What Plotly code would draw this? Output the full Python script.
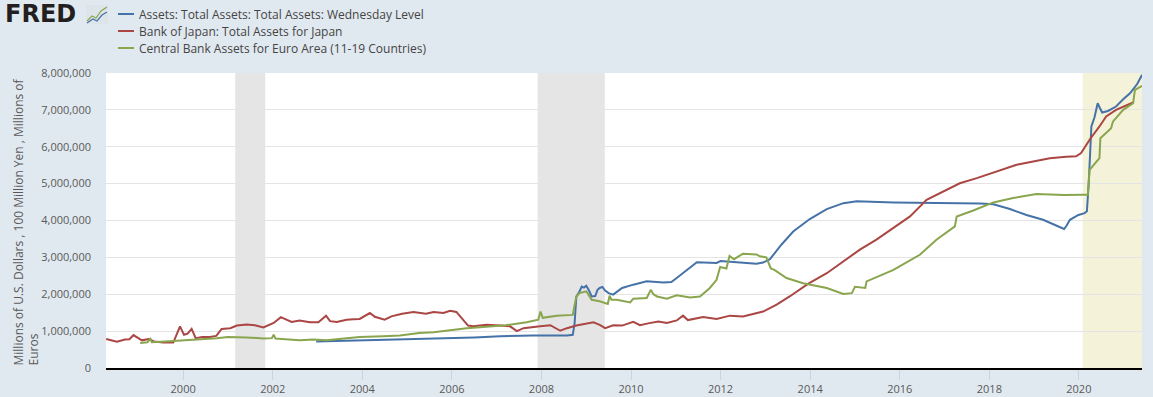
import datetime as dt
import plotly.graph_objects as go

# ---------------- data (decimal years, values in millions) ----------------
fed_t = [2002.97, 2003.35, 2003.94, 2004.47, 2004.84, 2005.27, 2005.96, 2006.5, 2007.08, 2007.8,
         2008.57, 2008.70, 2008.74, 2008.78, 2008.84, 2008.90, 2008.95, 2009.00, 2009.06, 2009.12,
         2009.20, 2009.25, 2009.30, 2009.36, 2009.42, 2009.50, 2009.60, 2009.70, 2009.80, 2010.05,
         2010.35, 2010.72, 2010.90, 2011.02, 2011.25, 2011.47, 2011.91, 2012.00, 2012.36, 2012.80,
         2012.95, 2013.10, 2013.36, 2013.62, 2013.99, 2014.37, 2014.74, 2015.04, 2015.86, 2016.60,
         2017.34, 2017.80, 2018.09, 2018.46, 2018.83, 2019.20, 2019.67, 2019.72, 2019.80, 2019.99,
         2020.13, 2020.18, 2020.22, 2020.25, 2020.28, 2020.35, 2020.42, 2020.47, 2020.52, 2020.65,
         2020.83, 2021.00, 2021.14, 2021.30, 2021.41]
fed_v = [0.72, 0.73, 0.75, 0.77, 0.77, 0.79, 0.80, 0.83, 0.86, 0.88,
         0.88, 0.90, 1.20, 1.94, 2.05, 2.21, 2.18, 2.23, 2.10, 1.94,
         1.95, 2.12, 2.17, 2.20, 2.10, 2.03, 1.99, 2.08, 2.17, 2.26,
         2.35, 2.32, 2.33, 2.44, 2.65, 2.87, 2.85, 2.90, 2.87, 2.83,
         2.86, 2.95, 3.35, 3.70, 4.04, 4.31, 4.47, 4.52, 4.49, 4.48,
         4.48, 4.46, 4.44, 4.31, 4.15, 4.02, 3.77, 3.85, 4.02, 4.15,
         4.20, 4.25, 5.00, 5.90, 6.55, 6.80, 7.18, 7.05, 6.93, 6.97,
         7.09, 7.30, 7.45, 7.70, 7.95]

boj_t = [1998.28, 1998.52, 1998.70, 1998.80, 1998.89, 1999.08, 1999.23, 1999.35, 1999.56, 1999.78,
         1999.93, 2000.02, 2000.10, 2000.19, 2000.28, 2000.43, 2000.60, 2000.74, 2000.86, 2001.05,
         2001.20, 2001.42, 2001.60, 2001.79, 2002.02, 2002.18, 2002.42, 2002.60, 2002.83, 2003.02,
         2003.19, 2003.28, 2003.43, 2003.65, 2003.80, 2003.94, 2004.17, 2004.28, 2004.50, 2004.65,
         2004.89, 2005.14, 2005.42, 2005.59, 2005.81, 2005.96, 2006.10, 2006.36, 2006.48, 2006.77,
         2007.08, 2007.30, 2007.45, 2007.60, 2007.97, 2008.20, 2008.42, 2008.57, 2008.78, 2009.16,
         2009.30, 2009.42, 2009.60, 2009.80, 2010.05, 2010.20, 2010.38, 2010.61, 2010.80, 2011.02,
         2011.16, 2011.27, 2011.61, 2011.91, 2012.21, 2012.50, 2012.95, 2013.25, 2013.54, 2013.95,
         2014.37, 2014.74, 2015.11, 2015.48, 2015.86, 2016.23, 2016.60, 2016.97, 2017.34, 2017.72,
         2017.94, 2018.24, 2018.61, 2018.98, 2019.35, 2019.72, 2019.94, 2020.05, 2020.24, 2020.46,
         2020.61, 2020.83, 2021.00, 2021.21]
boj_v = [0.786, 0.713, 0.77, 0.78, 0.894, 0.75, 0.786, 0.72, 0.69, 0.69,
         1.13, 0.90, 0.93, 1.06, 0.81, 0.84, 0.84, 0.87, 1.06, 1.08,
         1.15, 1.18, 1.16, 1.10, 1.22, 1.38, 1.25, 1.29, 1.24, 1.24,
         1.42, 1.27, 1.25, 1.31, 1.32, 1.33, 1.49, 1.39, 1.31, 1.40,
         1.47, 1.52, 1.47, 1.52, 1.49, 1.55, 1.52, 1.15, 1.13, 1.17,
         1.15, 1.13, 1.00, 1.08, 1.13, 1.16, 1.01, 1.08, 1.15, 1.24,
         1.17, 1.08, 1.16, 1.15, 1.25, 1.16, 1.21, 1.26, 1.22, 1.29,
         1.42, 1.30, 1.38, 1.33, 1.42, 1.40, 1.53, 1.72, 1.94, 2.28,
         2.57, 2.89, 3.21, 3.48, 3.79, 4.11, 4.56, 4.79, 5.01, 5.15,
         5.24, 5.37, 5.51, 5.60, 5.69, 5.73, 5.74, 5.83, 6.19, 6.55,
         6.82, 7.00, 7.10, 7.20]

ecb_t = [1999.04, 1999.20, 1999.27, 1999.30, 1999.60, 1999.90, 2000.08, 2000.40, 2000.75, 2001.00,
         2001.42, 2001.79, 2001.98, 2002.02, 2002.06, 2002.60, 2002.90, 2003.20, 2003.50, 2003.94,
         2004.47, 2004.84, 2005.27, 2005.59, 2006.33, 2006.77, 2007.20, 2007.67, 2007.93, 2007.98,
         2008.03, 2008.34, 2008.70, 2008.74, 2008.78, 2008.85, 2009.00, 2009.12, 2009.30, 2009.48,
         2009.52, 2009.56, 2009.68, 2009.98, 2010.05, 2010.35, 2010.44, 2010.50, 2010.58, 2010.80,
         2011.02, 2011.32, 2011.54, 2011.76, 2011.91, 2011.99, 2012.13, 2012.20, 2012.30, 2012.50,
         2012.80, 2012.88, 2013.02, 2013.12, 2013.20, 2013.47, 2013.84, 2014.37, 2014.60, 2014.74,
         2014.93, 2015.00, 2015.23, 2015.26, 2015.86, 2016.45, 2016.82, 2017.23, 2017.27, 2017.64,
         2018.09, 2018.53, 2019.05, 2019.67, 2020.10, 2020.20, 2020.24, 2020.46, 2020.48, 2020.72,
         2020.76, 2020.99, 2021.21, 2021.25, 2021.41]
ecb_v = [0.68, 0.70, 0.79, 0.70, 0.72, 0.74, 0.77, 0.79, 0.81, 0.84,
         0.83, 0.80, 0.81, 0.90, 0.80, 0.75, 0.77, 0.75, 0.79, 0.84,
         0.86, 0.88, 0.95, 0.97, 1.08, 1.13, 1.16, 1.24, 1.31, 1.53,
         1.36, 1.42, 1.44, 1.70, 1.94, 2.03, 2.08, 1.85, 1.81, 1.74,
         1.96, 1.85, 1.85, 1.78, 1.88, 1.90, 2.12, 2.00, 1.94, 1.88,
         1.97, 1.91, 1.94, 2.17, 2.39, 2.74, 2.70, 3.04, 2.95, 3.10,
         3.08, 3.03, 3.00, 2.70, 2.66, 2.44, 2.30, 2.17, 2.06, 2.01,
         2.03, 2.20, 2.17, 2.35, 2.66, 3.07, 3.48, 3.84, 4.11, 4.27,
         4.49, 4.61, 4.72, 4.69, 4.70, 4.70, 5.37, 5.69, 6.23, 6.50,
         6.68, 7.00, 7.18, 7.54, 7.65]

series_names = ["Assets: Total Assets: Total Assets: Wednesday Level",
                "Bank of Japan: Total Assets for Japan",
                "Central Bank Assets for Euro Area (11-19 Countries)"]
series_colors = ["#4572a7", "#aa4643", "#89a54e"]

recessions = [("2001-03-01", "2001-11-01"), ("2007-12-01", "2009-06-01")]
highlight = ("2020-02-01", "2021-06-30")

y_ticks = [0, 1e6, 2e6, 3e6, 4e6, 5e6, 6e6, 7e6, 8e6]
y_title_1 = "Millions of U.S. Dollars , 100 Million Yen , Millions of"
y_title_2 = "Euros"
x_range = ["1998-04-12", "2021-05-30"]


def to_date(d):
    y = int(d)
    return dt.datetime(y, 1, 1) + dt.timedelta(days=(d - y) * 365.25)


# ---------------- figure ----------------
W, H = 1153, 397
L, R, T, B = 106, 1142, 73, 368
PW, PH = R - L, B - T


def px(x):
    return (x - L) / PW


def py(y):
    return (B - y) / PH


fig = go.Figure()
for t, v, name, col in [(fed_t, fed_v, series_names[0], series_colors[0]),
                        (boj_t, boj_v, series_names[1], series_colors[1]),
                        (ecb_t, ecb_v, series_names[2], series_colors[2])]:
    fig.add_trace(go.Scatter(x=[to_date(d) for d in t], y=[val * 1e6 for val in v],
                             mode="lines", name=name, line=dict(color=col, width=2),
                             showlegend=False))

shapes = []
for a, b in recessions:
    shapes.append(dict(type="rect", xref="x", yref="paper", x0=a, x1=b, y0=0, y1=1,
                       fillcolor="#e5e5e5", line=dict(width=0), layer="below"))
shapes.append(dict(type="rect", xref="x", yref="paper", x0=highlight[0], x1=highlight[1],
                   y0=0, y1=1, fillcolor="#f4f3da", line=dict(width=0), layer="below"))

annotations = []
# legend drawn manually
leg_y = [14, 31, 48]
for i in range(3):
    shapes.append(dict(type="line", xref="paper", yref="paper", x0=px(118), x1=px(134),
                       y0=py(leg_y[i]), y1=py(leg_y[i]),
                       line=dict(color=series_colors[i], width=2)))
    annotations.append(dict(xref="paper", yref="paper", x=px(137), y=py(leg_y[i]),
                            xanchor="left", yanchor="middle", text=series_names[i],
                            showarrow=False, font=dict(size=12, color="#444444")))

# FRED logo
annotations.append(dict(xref="paper", yref="paper", x=px(3), y=py(14), xanchor="left",
                        yanchor="middle", text="<b>FRED</b>", showarrow=False,
                        font=dict(size=24, color="#231f20", family="DejaVu Sans")))
shapes.append(dict(type="rect", xref="paper", yref="paper", x0=px(86), x1=px(108),
                   y0=py(24), y1=py(5), fillcolor="#dde5ea", line=dict(width=0)))
shapes.append(dict(type="path", xref="paper", yref="paper",
                   path="M {} {} L {} {} L {} {} L {} {} L {} {}".format(
                       px(87), py(21), px(92), py(16), px(96), py(18), px(101), py(11), px(107), py(7)),
                   line=dict(color="#89a54e", width=1.2)))
shapes.append(dict(type="path", xref="paper", yref="paper",
                   path="M {} {} L {} {} L {} {} L {} {} L {} {}".format(
                       px(87), py(23), px(93), py(19), px(97), py(21), px(102), py(15), px(107), py(12)),
                   line=dict(color="#4572a7", width=1.2)))

# y-axis title (two lines, bottom aligned)
annotations.append(dict(xref="paper", yref="paper", x=px(18), y=0, xanchor="center",
                        yanchor="bottom", text=y_title_1, textangle=-90, showarrow=False,
                        font=dict(size=12, color="#595959")))
annotations.append(dict(xref="paper", yref="paper", x=px(32.5), y=0, xanchor="center",
                        yanchor="bottom", text=y_title_2, textangle=-90, showarrow=False,
                        font=dict(size=12, color="#595959")))

fig.update_layout(
    width=W, height=H,
    margin=dict(l=L, r=W - R, t=T, b=H - B, pad=0, autoexpand=False),
    paper_bgcolor="#e1e9f0", plot_bgcolor="#ffffff",
    font=dict(family="Open Sans", color="#595959", size=11),
    shapes=shapes, annotations=annotations,
    xaxis=dict(type="date", range=x_range, tickformat="%Y", dtick="M24", tick0="2000-01-01",
               showgrid=False, ticks="outside", ticklen=10, tickcolor="#c8d4e0",
               showline=True, linecolor="#000000", linewidth=2, zeroline=False,
               tickfont=dict(size=11, color="#595959"), automargin=False),
    yaxis=dict(range=[0, 8e6], tickvals=y_ticks, tickformat=",d", showgrid=True,
               gridcolor="#e4e4e4", gridwidth=1, zeroline=False, showline=False,
               ticks="", ticklabelstandoff=14, tickfont=dict(size=11, color="#595959"),
               automargin=False),
)

fig.write_html("out.html", config={"displayModeBar": False},
               post_script="document.body.style.margin='0';document.body.style.overflow='hidden';")
